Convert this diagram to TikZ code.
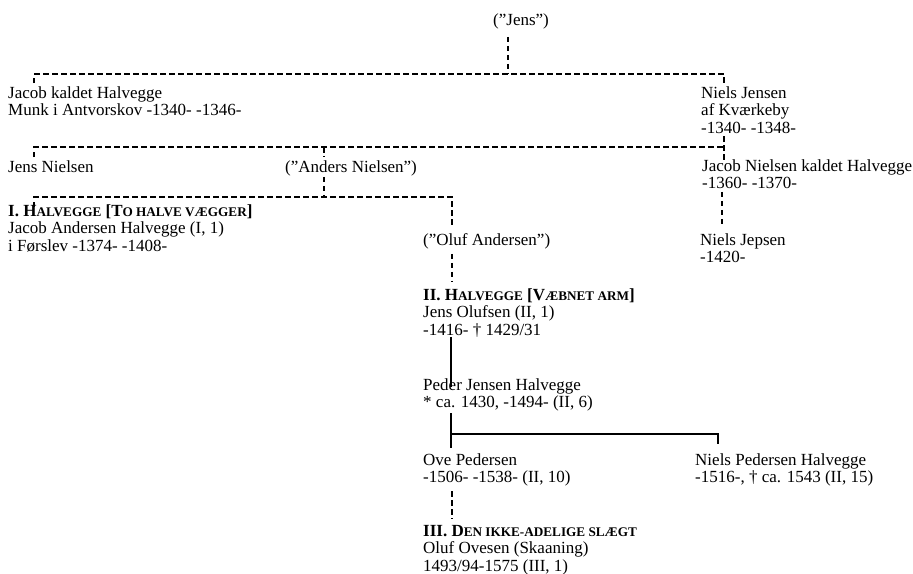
\documentclass[tikz,border=0pt]{standalone}
\usepackage{fontspec}
\setmainfont{Liberation Serif}
\usetikzlibrary{positioning}
\newcommand{\smcp}[1]{{\fontsize{13.2}{17.5}\selectfont #1}}
\begin{document}
\begin{tikzpicture}[x=1pt, y=-1pt,
  person/.style={anchor=base west, inner sep=0pt, align=left, font=\fontsize{17}{17.5}\selectfont},
  kin/.style={line width=1.3pt, dash pattern=on 5.5pt off 3.5pt},
  blood/.style={line width=1.3pt}]
  \useasboundingbox (0,0) rectangle (913,573);
  % persons (placed at the baseline of their last line)
  \node[person] (jens)    at (493,25)    {(”Jens”)};
  \node[person] (jacobk)  at (8,115.5)   {Jacob kaldet Halvegge\\Munk i Antvorskov -1340- -1346-};
  \node[person] (nielsj)  at (701,133)   {Niels Jensen\\af Kværkeby\\-1340- -1348-};
  \node[person] (jensn)   at (8,172)     {Jens Nielsen};
  \node[person] (anders)  at (285,172)   {(”Anders Nielsen”)};
  \node[person] (jacobn)  at (702,188.5) {Jacob Nielsen kaldet Halvegge\\-1360- -1370-};
  \node[person] (halv1)   at (8,251)     {\bfseries I. H\smcp{ALVEGGE} [T\smcp{O HALVE VÆGGER}]\\Jacob Andersen Halvegge (I, 1)\\i Førslev -1374- -1408-};
  \node[person] (oluf)    at (423,245)   {(”Oluf Andersen”)};
  \node[person] (jepsen)  at (700,262.5) {Niels Jepsen\\-1420-};
  \node[person] (halv2)   at (423,335)   {\bfseries II. H\smcp{ALVEGGE} [V\smcp{ÆBNET ARM}]\\Jens Olufsen (II, 1)\\-1416- † 1429/31};
  \node[person] (peder)   at (423,407.5) {Peder Jensen Halvegge\\* ca. 1430, -1494- (II, 6)};
  \node[person] (ove)     at (423,482.5) {Ove Pedersen\\-1506- -1538- (II, 10)};
  \node[person] (nielsp)  at (695,482.5) {Niels Pedersen Halvegge\\-1516-, † ca. 1543 (II, 15)};
  \node[person] (halv3)   at (423,571)   {\bfseries III. D\smcp{EN IKKE-ADELIGE SLÆGT}\\Oluf Ovesen (Skaaning)\\1493/94-1575 (III, 1)};
  % sibling bars
  \coordinate (b1l) at (34,74);  \coordinate (b1m) at (508,74); \coordinate (b1r) at (724,74);
  \coordinate (b2l) at (34,147); \coordinate (b2m) at (324,147); \coordinate (b2r) at (724,147);
  \coordinate (b3l) at (34,197); \coordinate (b3r) at (452,197);
  \coordinate (b4l) at (451,434); \coordinate (b4r) at (718,434);
  \draw[kin] (b1l) ++(0,9) -- (b1l) -- (b1r) -- ++(0,9);
  \draw[kin] (jens.south -| b1m) ++(0,8) -- (b1m);
  \draw[kin] (b2l) ++(0,10) -- (b2l) -- (b2r);
  \draw[kin] (b2r) ++(0,-11) -- ++(0,24);
  \draw[kin] (b2m) -- ++(0,10);
  \draw[kin] (anders.south -| b2m) ++(0,1) -- (b3l -| b2m);
  \draw[kin] (b3l) ++(0,10) -- (b3l) -- (b3r) -- ([yshift=5pt]oluf.north -| b3r);
  \draw[kin] (jacobn.south -| 722,0) ++(0,3) -- ([yshift=8pt]jepsen.north -| 722,0);
  \draw[kin] (oluf.south -| b3r) ++(0,5) -- ([yshift=6pt]halv2.north -| b3r);
  \draw[blood] (halv2.south -| b4l) ++(0,0) -- ([yshift=-9pt]peder.north -| b4l);
  \draw[blood] (peder.south -| b4l) ++(0,2) -- ([yshift=5pt]ove.north -| b4l);
  \draw[blood] (b4l) -- (b4r) -- ++(0,10);
  \draw[kin] (ove.south -| b3r) ++(0,5) -- ([yshift=6pt]halv3.north -| b3r);
\end{tikzpicture}
\end{document}
